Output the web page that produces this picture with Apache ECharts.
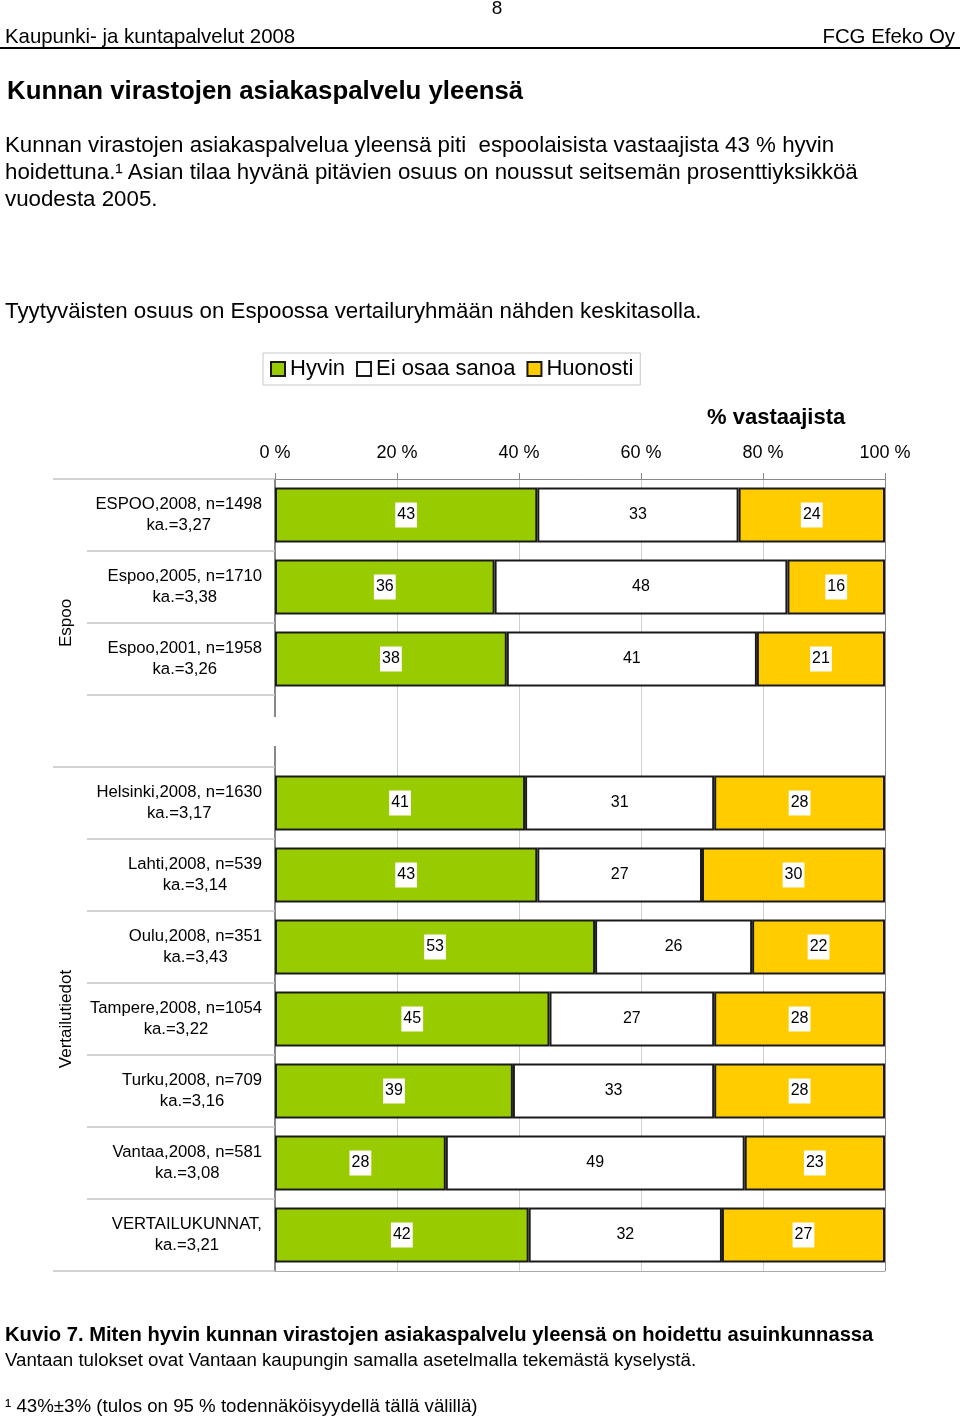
<!DOCTYPE html>
<html><head><meta charset="utf-8">
<script src="https://cdn.jsdelivr.net/npm/echarts@6/dist/echarts.min.js"></script>
<style>
html,body{margin:0;padding:0;background:#fff;}
body{width:960px;height:1419px;position:relative;overflow:hidden;font-family:'Liberation Sans',Arial,sans-serif;color:#000;}
#chart{position:absolute;left:0;top:0;width:960px;height:1419px;}
.t{position:absolute;white-space:nowrap;z-index:5;}
</style></head><body>
<div id="chart"></div>
<div class="t" style="left:0;width:994px;text-align:center;top:-4px;font-size:19px;line-height:24px;">8</div>
<div class="t" style="left:5px;top:24px;font-size:20.4px;line-height:24px;">Kaupunki- ja kuntapalvelut 2008</div>
<div class="t" style="right:5px;top:24px;font-size:20.4px;line-height:24px;">FCG Efeko Oy</div>
<div style="position:absolute;left:0;top:47px;width:960px;height:2px;background:#000;"></div>
<div class="t" style="left:7px;top:75px;font-size:25.8px;line-height:30px;font-weight:bold;">Kunnan virastojen asiakaspalvelu yleensä</div>
<div class="t" style="left:5px;top:131px;font-size:22.3px;line-height:27px;">Kunnan virastojen asiakaspalvelua yleensä piti&nbsp; espoolaisista vastaajista 43 % hyvin<br>hoidettuna.¹ Asian tilaa hyvänä pitävien osuus on noussut seitsemän prosenttiyksikköä<br>vuodesta 2005.</div>
<div class="t" style="left:5px;top:297px;font-size:22.3px;line-height:27px;">Tyytyväisten osuus on Espoossa vertailuryhmään nähden keskitasolla.</div>
<div class="t" style="left:707px;top:404px;font-size:22px;line-height:26px;font-weight:bold;">% vastaajista</div>
<div class="t" style="left:5px;top:1322px;font-size:20.2px;line-height:24px;font-weight:bold;width:875px;overflow:hidden;">Kuvio 7. Miten hyvin kunnan virastojen asiakaspalvelu yleensä on hoidettu asuinkunnassa</div>
<div class="t" style="left:5px;top:1349px;font-size:18.7px;line-height:22px;">Vantaan tulokset ovat Vantaan kaupungin samalla asetelmalla tekemästä kyselystä.</div>
<div class="t" style="left:5px;top:1395px;font-size:18.7px;line-height:22px;">¹ 43%±3% (tulos on 95 % todennäköisyydellä tällä välillä)</div>
<script>
// ---- data ----
const espooNames = ['ESPOO,2008, n=1498', 'Espoo,2005, n=1710', 'Espoo,2001, n=1958'];
const espooMeans = ['ka.=3,27', 'ka.=3,38', 'ka.=3,26'];
const espooHyvin = [43, 36, 38];
const espooEiOsaa = [33, 48, 41];
const espooHuonosti = [24, 16, 21];

const compNames = ['Helsinki,2008, n=1630', 'Lahti,2008, n=539', 'Oulu,2008, n=351', 'Tampere,2008, n=1054', 'Turku,2008, n=709', 'Vantaa,2008, n=581', 'VERTAILUKUNNAT,'];
const compMeans = ['ka.=3,17', 'ka.=3,14', 'ka.=3,43', 'ka.=3,22', 'ka.=3,16', 'ka.=3,08', 'ka.=3,21'];
const compHyvin = [41, 43, 53, 45, 39, 28, 42];
const compEiOsaa = [31, 27, 26, 27, 33, 49, 32];
const compHuonosti = [28, 30, 22, 28, 28, 23, 27];

const seriesNames = ['Hyvin', 'Ei osaa sanoa', 'Huonosti'];
const groupNames = ['Espoo', 'Vertailutiedot'];
const xTicks = [0, 20, 40, 60, 80, 100];

// ---- build ----
const FONT = "'Liberation Sans', Arial, sans-serif";
const colors = ['#99CC00', '#FFFFFF', '#FFCC00'];
const cats = espooNames.map((n, i) => n + '\n' + espooMeans[i])
  .concat([''])
  .concat(compNames.map((n, i) => n + '\n' + compMeans[i]));
const raw = [
  espooHyvin.concat([null], compHyvin),
  espooEiOsaa.concat([null], compEiOsaa),
  espooHuonosti.concat([null], compHuonosti)
];
const totals = cats.map((c, i) => raw.reduce((s, arr) => s + (arr[i] || 0), 0));
const gapIndex = espooNames.length;

const series = seriesNames.map((name, s) => ({
  type: 'bar',
  name: name,
  stack: 'all',
  barWidth: 55,
  data: raw[s].map((v, i) => v == null ? '-' : v * 100 / totals[i]),
  itemStyle: { color: colors[s], borderColor: '#1a1a1a', borderWidth: 2 },
  label: {
    show: true, position: 'inside',
    formatter: p => raw[s][p.dataIndex] == null ? '' : String(raw[s][p.dataIndex]),
    color: '#000', fontSize: 16, fontFamily: FONT,
    backgroundColor: '#fff', padding: [5, 2, 4, 2]
  }
}));

const chart = echarts.init(document.getElementById('chart'), null, { renderer: 'canvas' });
const GRID = { left: 275, right: 75, top: 479, height: 792 };
chart.setOption({
  animation: false,
  backgroundColor: '#fff',
  textStyle: { fontFamily: FONT },
  legend: {
    data: seriesNames,
    left: 263, top: 353,
    itemWidth: 14, itemHeight: 14, itemGap: 11,
    padding: [5, 7, 5, 7],
    borderColor: '#c8c8c8', borderWidth: 1,
    icon: 'rect',
    textStyle: { fontSize: 22, color: '#000', fontFamily: FONT }
  },
  grid: GRID,
  xAxis: [
    {
      type: 'value', min: xTicks[0], max: xTicks[xTicks.length - 1], interval: xTicks[1] - xTicks[0],
      position: 'bottom',
      axisLabel: { show: false },
      axisTick: { show: false },
      axisLine: { show: true, lineStyle: { color: '#aaa', width: 1 } },
      splitLine: { show: true, lineStyle: { color: ['#888', '#d0d0d0', '#d0d0d0', '#d0d0d0', '#d0d0d0', '#888'], width: 1 } }
    },
    {
      type: 'value', min: xTicks[0], max: xTicks[xTicks.length - 1], interval: xTicks[1] - xTicks[0],
      position: 'top',
      axisLabel: { show: true, formatter: '{value} %', fontSize: 18, color: '#000', margin: 17, fontFamily: FONT },
      axisTick: { show: true, length: 6, lineStyle: { color: '#888' } },
      axisLine: { show: true, lineStyle: { color: '#888', width: 1 } },
      splitLine: { show: false }
    }
  ],
  yAxis: [
    {
      type: 'category', inverse: true, data: cats,
      axisLine: { show: true, lineStyle: { color: '#888', width: 2 } },
      axisTick: { show: true, length: 188, interval: 0, lineStyle: { color: '#c4c4c4', width: 1.5 } },
      axisLabel: {
        show: true, interval: 0, margin: 13, fontSize: 16.7, color: '#000', fontFamily: FONT,
        formatter: v => v ? v.split('\n').map(l => '{c|' + l + '}').join('\n') : '',
        rich: { c: { align: 'center', fontSize: 16.7, lineHeight: 21, color: '#000', fontFamily: FONT } }
      },
      splitLine: { show: false }
    },
    {
      type: 'category', inverse: true, data: cats, position: 'left',
      axisLine: { show: false },
      axisTick: { show: true, length: 222, interval: (idx) => idx === 0 || idx === gapIndex + 1, lineStyle: { color: '#c4c4c4', width: 1.5 } },
      axisLabel: { show: false },
      splitLine: { show: false }
    }
  ],
  series: series
});

// decorations placed through the axis scales
const yOf = i => chart.convertToPixel({ yAxisIndex: 0 }, i);
const gapY = yOf(gapIndex);
const espooMid = (yOf(0) + yOf(gapIndex)) / 2;
const compMid = (yOf(gapIndex + 1) + yOf(cats.length - 1)) / 2;
chart.setOption({
  graphic: [
    { type: 'rect', z: 100, shape: { x: 270, y: gapY - 14, width: 9, height: 29 }, style: { fill: '#fff' } },
    { type: 'text', z: 100, x: 66, y: espooMid, rotation: Math.PI / 2,
      style: { text: groupNames[0], fontSize: 17, fontFamily: FONT, fill: '#000', align: 'center', verticalAlign: 'middle' } },
    { type: 'text', z: 100, x: 66, y: compMid, rotation: Math.PI / 2,
      style: { text: groupNames[1], fontSize: 17, fontFamily: FONT, fill: '#000', align: 'center', verticalAlign: 'middle' } }
  ]
});
</script>
</body></html>
